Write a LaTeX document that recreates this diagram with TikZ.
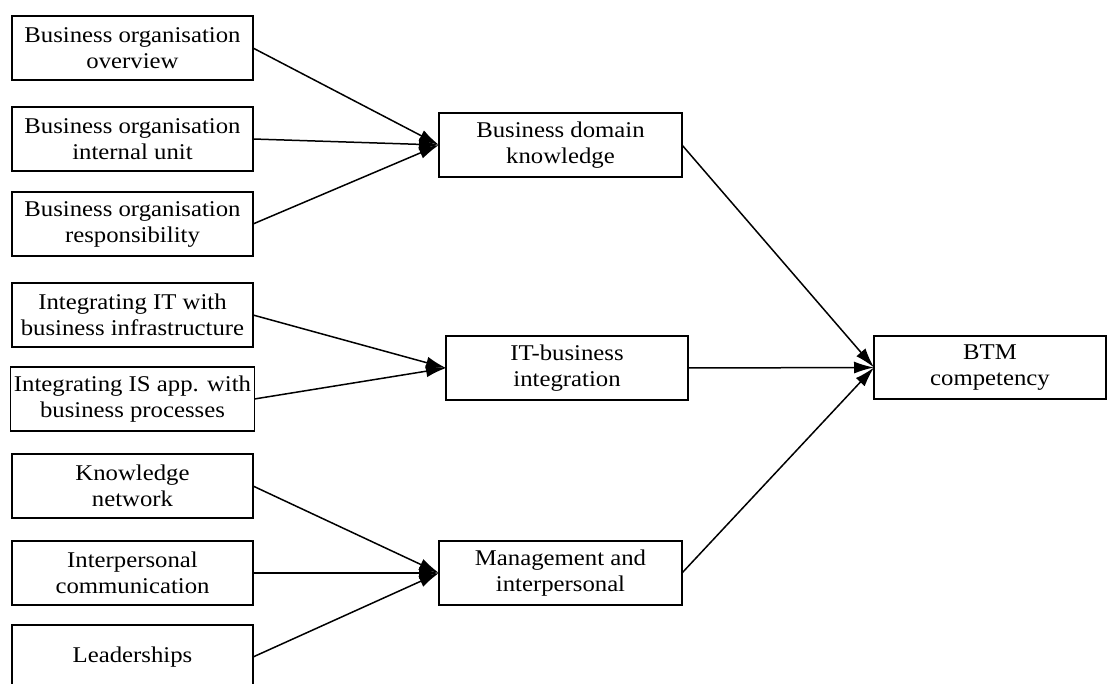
\documentclass[tikz,border=0pt]{standalone}
\usepackage{fontspec}
\setmainfont{Liberation Serif}[FakeStretch=1.1]
\usetikzlibrary{
  arrows.meta,
  positioning,
}
\tikzstyle{arrow} = [
  -{Latex[length=20pt,width=12pt]},
  line width=1.5pt,
]
\tikzstyle{box} = [
  rectangle,
  draw,
  line width=1.5pt,
  outer sep=0pt,
  align=center,
  font=\fontsize{22.5}{26}\selectfont,
]

\begin{document}
\begin{tikzpicture}[x=1pt,y=-1pt]
      \useasboundingbox (0,0) rectangle (1108,684);

      \node[box,minimum width=241,minimum height=64] (boo) at (132.5,48) {Business organisation\\overview};
      \node[box,minimum width=241,minimum height=64] (boi) [below=27pt of boo] {Business organisation\\internal unit};
      \node[box,minimum width=241,minimum height=64] (bor) [below=21pt of boi] {Business organisation\\responsibility};

      \node[box,minimum width=241,minimum height=64] (iti) [below=27pt of bor] {Integrating IT with\\business infrastructure};
      \node[box,minimum width=241,minimum height=64] (isp) [below=20pt of iti] {Integrating IS app. with\\business processes};

      \node[box,minimum width=241,minimum height=64] (kno) [below=23pt of isp] {Knowledge\\network};
      \node[box,minimum width=241,minimum height=64] (ipc) [below=23pt of kno] {Interpersonal\\communication};
      \node[box,minimum width=241,minimum height=64] (lea) [below=20pt of ipc] {Leaderships};

      \node[box,minimum width=243,minimum height=64] (bdk) at (560.5,145) {Business domain\\knowledge};
      \node[box,minimum width=242,minimum height=64] (itb) at (567,368) {IT-business\\integration};
      \node[box,minimum width=243,minimum height=64] (mgi) at (560.5,573) {Management and\\interpersonal};

      \node[box,minimum width=232,minimum height=63] (btm) at (990,367.5) {BTM\\competency};

      \draw[arrow] (boo.east) -- (bdk.west);
      \draw[arrow] (boi.east) -- (bdk.west);
      \draw[arrow] (bor.east) -- (bdk.west);

      \draw[arrow] (iti.east) -- (itb.west);
      \draw[arrow] (isp.east) -- (itb.west);

      \draw[arrow] (kno.east) -- (mgi.west);
      \draw[arrow] (ipc.east) -- (mgi.west);
      \draw[arrow] (lea.east) -- (mgi.west);

      \draw[arrow] (bdk.east) -- (btm.west);
      \draw[arrow] (itb.east) -- (btm.west);
      \draw[arrow] (mgi.east) -- (btm.west);
    \end{tikzpicture}
\end{document}
